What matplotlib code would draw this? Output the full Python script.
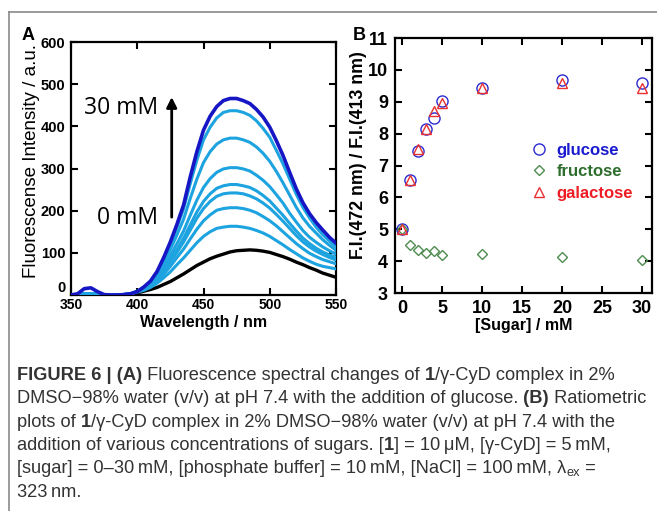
import numpy as np
import matplotlib
matplotlib.use("Agg")
import matplotlib.pyplot as plt
from matplotlib.lines import Line2D

# ---------------- data ----------------
wavelength = np.arange(350, 555, 5)          # nm, 41 points
baseline_uv = [0, 1, 3, 3, 2, 0, 0, 0, 1, 3]  # 350-395 nm for the lower spectra

spec_0mM = baseline_uv + [5, 9, 13, 18, 25, 32, 41, 50, 60, 70, 78, 86, 92, 97, 102, 105,
                          106, 107, 106, 104, 101, 96, 91, 85, 78, 72, 65, 59, 52, 47, 42]
spec_1 = baseline_uv + [7, 11, 18, 28, 41, 55, 72, 88, 106, 124, 139, 150, 158, 161, 163, 163,
                        161, 158, 153, 147, 139, 129, 119, 108, 98, 88, 80, 73, 68, 65, 62]
spec_2 = baseline_uv + [8, 14, 22, 34, 50, 68, 89, 109, 133, 156, 176, 190, 201, 205, 207, 207,
                        205, 201, 195, 186, 176, 164, 150, 136, 122, 110, 99, 91, 84, 79, 74]
spec_3 = baseline_uv + [8, 15, 24, 38, 57, 78, 101, 126, 154, 182, 205, 222, 234, 240, 242, 242,
                        240, 235, 228, 218, 206, 191, 175, 158, 141, 126, 114, 104, 96, 89, 83]
spec_4 = baseline_uv + [8, 16, 25, 40, 59, 83, 108, 135, 166, 197, 222, 240, 253, 259, 262, 262,
                        259, 255, 247, 236, 223, 206, 189, 170, 152, 135, 122, 111, 102, 95, 89]
spec_5 = baseline_uv + [9, 17, 28, 44, 67, 93, 122, 152, 189, 225, 255, 276, 291, 299, 302, 302,
                        299, 294, 284, 272, 257, 238, 218, 194, 173, 153, 137, 125, 114, 105, 97]
spec_10 = baseline_uv + [9, 18, 31, 51, 78, 108, 143, 180, 229, 275, 314, 340, 358, 368, 372, 372,
                         368, 362, 351, 336, 317, 293, 266, 237, 208, 183, 163, 147, 131, 118, 106]
spec_20 = baseline_uv + [8, 19, 32, 55, 86, 121, 161, 205, 264, 320, 368, 398, 420, 433, 437, 437,
                         433, 426, 413, 395, 374, 343, 311, 275, 239, 208, 183, 161, 143, 128, 114]
spec_30mM = [0, 3, 15, 17, 8, 1, 0, 0, 1, 3,
             8, 19, 33, 56, 89, 126, 168, 214, 280, 340, 391, 424, 447, 461, 466, 466,
             461, 454, 440, 422, 398, 366, 331, 291, 252, 219, 193, 172, 154, 137, 123]
intermediate_spectra = [spec_1, spec_2, spec_3, spec_4, spec_5, spec_10, spec_20]

sugar_conc = [0, 1, 2, 3, 4, 5, 10, 20, 30]
glucose = [5.0, 6.55, 7.45, 8.13, 8.48, 9.03, 9.42, 9.68, 9.58]
fructose = [5.0, 4.50, 4.35, 4.27, 4.33, 4.18, 4.21, 4.12, 4.04]
galactose = [5.0, 6.55, 7.53, 8.16, 8.72, 8.97, 9.44, 9.60, 9.42]
sugar_names = ["glucose", "fructose", "galactose"]

xticks_A = [350, 400, 450, 500, 550]
yticks_A = [0, 100, 200, 300, 400, 500, 600]
xticks_B = [0, 5, 10, 15, 20, 25, 30]
yticks_B = [3, 4, 5, 6, 7, 8, 9, 10, 11]

# ---------------- fonts ----------------
SANS = ["Liberation Sans", "DejaVu Sans"]
plt.rcParams["font.family"] = SANS

W, H = 657, 511
fig = plt.figure(figsize=(W / 100, H / 100), dpi=100)

def ax_rect(l, t, r, b):
    return [l / W, 1 - b / H, (r - l) / W, (b - t) / H]

DARK = "#1616c4"
LIGHT = "#1da3df"

# ---------------- panel A ----------------
axA = fig.add_axes(ax_rect(71, 42, 336, 295))
axA.plot(wavelength, spec_0mM, color="black", lw=2.4, zorder=3)
for s in intermediate_spectra:
    axA.plot(wavelength, s, color=LIGHT, lw=2.2, zorder=3)
axA.plot(wavelength, spec_30mM, color=DARK, lw=2.6, zorder=4)
axA.set_xlim(350, 550)
axA.set_ylim(0, 600)
axA.set_xticks(xticks_A)
axA.set_yticks(yticks_A)
axA.set_xticklabels([str(v) for v in xticks_A], fontweight="bold", fontsize=10)
axA.set_yticklabels([str(v) for v in yticks_A], fontweight="bold", fontsize=10.5)
axA.set_xlabel("Wavelength / nm", fontweight="bold", fontsize=11.5, labelpad=2)
axA.set_ylabel("Fluorescense Intensity / a.u.", fontsize=13.5)
axA.yaxis.set_label_coords(-0.118, 0.53)
axA.annotate("", xy=(426, 476), xytext=(426, 178),
             arrowprops=dict(arrowstyle="-|>", color="black", lw=2, mutation_scale=15))
axA.text(388, 443, "30 mM", fontsize=16.5, family=["Open Sans", "DejaVu Sans"],
         ha="center", va="center")
axA.text(393, 183, "0 mM", fontsize=16.5, family=["Open Sans", "DejaVu Sans"],
         ha="center", va="center")

# ---------------- panel B ----------------
axB = fig.add_axes(ax_rect(395, 38, 652, 293))
axB.plot(sugar_conc, glucose, ls="none", marker="o", ms=8, mfc="none", mec="#2b2bd0",
         mew=1.0, label=sugar_names[0], zorder=3)
axB.plot(sugar_conc, fructose, ls="none", marker="D", ms=5.5, mfc="none", mec="#4f8c4f",
         mew=1.0, label=sugar_names[1], zorder=3)
axB.plot(sugar_conc, galactose, ls="none", marker="^", ms=7.5, mfc="none", mec="#e83030",
         mew=1.0, label=sugar_names[2], zorder=3)
axB.set_xlim(-0.875, 31.25)
axB.set_ylim(3, 11)
axB.set_xticks(xticks_B)
axB.set_yticks(yticks_B)
axB.set_xticklabels([str(v) for v in xticks_B], fontweight="bold", fontsize=13)
axB.set_yticklabels([str(v) for v in yticks_B], fontweight="bold", fontsize=13)
axB.set_xlabel("[Sugar] / mM", fontweight="bold", fontsize=11.5, labelpad=1)
axB.set_ylabel("F.I.(472 nm) / F.I.(413 nm)", fontweight="bold", fontsize=12.8)
axB.yaxis.set_label_coords(-0.109, 0.541)
leg = axB.legend(loc="upper left", bbox_to_anchor=(0.528, 0.590), frameon=False,
                 handlelength=1.0, handletextpad=0.55, labelspacing=0.4, borderpad=0,
                 borderaxespad=0, prop=dict(weight="bold", size=12),
                 labelcolor=["#1a1ad0", "#2d6e2d", "#ee1c24"])

for ax in (axA, axB):
    for sp in ax.spines.values():
        sp.set_linewidth(1.6)
    ax.tick_params(direction="in", top=True, right=True, length=5, width=1.5, pad=4)

axA.tick_params(axis="x", pad=2)
axB.tick_params(pad=5)
# the "0" label of panel A sits just above the corner, as in the original
axA.yaxis.get_major_ticks()[0].label1.set_va("bottom")

# panel letters
fig.text(22 / W, 1 - 40 / H, "A", fontsize=13, fontweight="bold")
fig.text(353 / W, 1 - 40 / H, "B", fontsize=13, fontweight="bold")

# figure frame lines
fig.add_artist(Line2D([9 / W, 1], [1 - 12 / H, 1 - 12 / H], transform=fig.transFigure,
                      color="#8a8a8a", lw=1.2))
fig.add_artist(Line2D([9 / W, 9 / W], [0, 1 - 12 / H], transform=fig.transFigure,
                      color="#8a8a8a", lw=1.2))

# ---------------- caption ----------------
N, B_ = "normal", "bold"
caption_lines = [
    [("FIGURE 6 | (A)", B_), (" Fluorescence spectral changes of ", N), ("1", B_),
     ("/\u03b3-CyD complex in 2%", N)],
    [("DMSO\u221298% water (v/v) at pH 7.4 with the addition of glucose.", N), (" (B)", B_),
     (" Ratiometric", N)],
    [("plots of ", N), ("1", B_),
     ("/\u03b3-CyD complex in 2% DMSO\u221298% water (v/v) at pH 7.4 with the", N)],
    [("addition of various concentrations of sugars. [", N), ("1", B_),
     ("] = 10\u2009\u03bcM, [\u03b3-CyD] = 5\u2009mM,", N)],
    [("[sugar] = 0\u201330\u2009mM, [phosphate buffer] = 10\u2009mM, [NaCl] = 100\u2009mM,", N),
     (" \u03bb", N), ("ex", "sub"), (" =", N)],
    [("323\u2009nm.", N)],
]
baselines = [380, 403.3, 426.6, 450, 473.3, 496.6]
CAP_COLOR = "#333333"
renderer = fig.canvas.get_renderer()


def draw_line(x0, yb, segs, size, keep=True):
    x = x0
    arts = []
    for txt, kind in segs:
        if kind == "sub":
            t = fig.text(x / W, 1 - (yb + 3) / H, txt, fontsize=size * 0.7, color=CAP_COLOR,
                         va="baseline", ha="left", family=SANS)
        else:
            t = fig.text(x / W, 1 - yb / H, txt, fontsize=size, fontweight=kind,
                         color=CAP_COLOR, va="baseline", ha="left", family=SANS)
        bb = t.get_window_extent(renderer)
        x += bb.width
        arts.append(t)
    if not keep:
        for a in arts:
            a.remove()
    return x - x0


base = 12.5
w2 = draw_line(17, baselines[1], caption_lines[1], base, keep=False)
cap_size = base * 631.0 / w2
for segs, yb in zip(caption_lines, baselines):
    draw_line(17, yb, segs, cap_size)

fig.savefig("out.png", dpi=100)
